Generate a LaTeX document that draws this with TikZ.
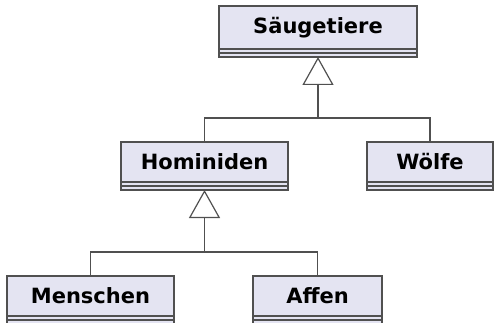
\documentclass[tikz,border=0pt]{standalone}
\usepackage{fontspec}
\newfontfamily\umlfont{DejaVu Sans}
\usetikzlibrary{positioning, arrows.meta}
\definecolor{color1}{RGB}{228,228,242}
\definecolor{color2}{RGB}{80,80,80}

\begin{document}
\begin{tikzpicture}[
    x=1pt, y=-1pt,
    klasse/.style={rectangle, draw=color2, fill=color1, line width=1.2pt, outer sep=0pt, anchor=north west, minimum height=40pt, font=\umlfont\bfseries\fontsize{21}{25}\selectfont},
    fach/.style={rectangle, draw=color2, fill=color1, line width=1.2pt, outer sep=0pt, inner sep=0pt, minimum height=4pt},
    erbt/.style={draw=color2, line width=1.2pt, -{Triangle[open, length=28pt, width=31pt]}},
    linie/.style={draw=color2, line width=1.2pt}
]
\useasboundingbox (0,0) rectangle (494,323);

% Oberklasse
\node[klasse, minimum width=198pt, minimum height=43pt] (saeug) at (219,6) {Säugetiere};
\node[fach, minimum width=198pt, below=0cm of saeug] (saeug_1) {};
\node[fach, minimum width=198pt, below=0cm of saeug_1] (saeug_2) {};

% mittlere Ebene
\node[klasse, minimum width=167pt] (homi) at (121,142) {Hominiden};
\node[fach, minimum width=167pt, below=0cm of homi] (homi_1) {};
\node[fach, minimum width=167pt, below=0cm of homi_1] (homi_2) {};

\node[klasse, minimum width=126pt] (woelfe) at (367,142) {Wölfe};
\node[fach, minimum width=126pt, below=0cm of woelfe] (woelfe_1) {};
\node[fach, minimum width=126pt, below=0cm of woelfe_1] (woelfe_2) {};

% untere Ebene
\node[klasse, minimum width=167pt] (mensch) at (7,276) {Menschen};
\node[fach, minimum width=167pt, below=0cm of mensch] (mensch_1) {};
\node[fach, minimum width=167pt, below=0cm of mensch_1] (mensch_2) {};

\node[klasse, minimum width=129pt] (affen) at (253,276) {Affen};
\node[fach, minimum width=129pt, below=0cm of affen] (affen_1) {};
\node[fach, minimum width=129pt, below=0cm of affen_1] (affen_2) {};

% Vererbung
\coordinate (gabel1) at (318,118);
\coordinate (gabel2) at (204.5,252);

\draw[erbt] (homi.north) |- (gabel1) -- (saeug_2.south);
\draw[linie] (woelfe.north) |- (gabel1);

\draw[erbt] (mensch.north) |- (gabel2) -- (homi_2.south);
\draw[linie] (affen.north) |- (gabel2);

\end{tikzpicture}
\end{document}
